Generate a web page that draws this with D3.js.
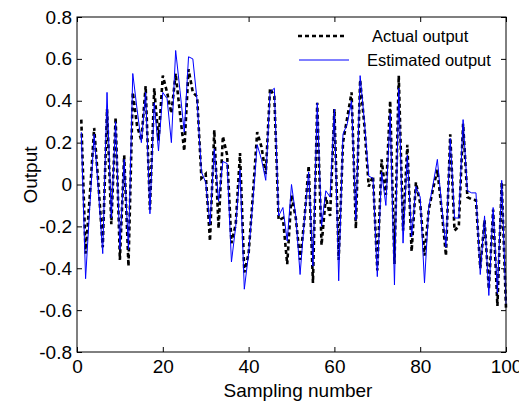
<!DOCTYPE html>
<html lang="en">
<head>
<meta charset="utf-8"/>
<title>Actual vs estimated output</title>
<script src="https://d3js.org/d3.v7.min.js"></script>
<style>
	body { margin: 0; background: #fff; }
	text { font-family: "Liberation Sans", Arial, sans-serif; fill: #000; }
	.axis .domain { display: none; }
	.axis line { stroke: #000; }
</style>
</head>
<body>
<svg id="chart" width="519" height="401"></svg>
<script>
// sample numbers 1..100
var samples = d3.range(1, 101);

var actualOutput = [
	0.31, -0.33, -0.05, 0.27, 0.00, -0.30, 0.36, -0.19, 0.32, -0.36,
	0.14, -0.39, 0.44, 0.28, 0.21, 0.47, -0.12, 0.46, 0.21, 0.52,
	0.44, 0.34, 0.53, 0.34, 0.16, 0.55, 0.44, 0.42, 0.03, 0.05,
	-0.27, 0.26, -0.21, 0.23, 0.14, -0.28, -0.19, 0.15, -0.42, -0.33,
	-0.05, 0.25, 0.18, 0.05, 0.46, 0.42, -0.17, -0.16, -0.38, -0.05,
	-0.16, -0.36, -0.17, 0.09, -0.47, 0.39, -0.29, -0.06, -0.15, 0.36,
	-0.36, 0.20, 0.32, 0.44, -0.21, 0.50, 0.28, -0.01, 0.04, -0.41,
	0.12, -0.05, 0.40, -0.38, 0.52, -0.22, 0.19, -0.32, 0.01, -0.09,
	-0.34, -0.12, -0.02, 0.07, -0.12, -0.34, 0.24, -0.22, -0.20, 0.29,
	-0.06, -0.07, -0.075, -0.40, -0.17, -0.50, -0.12, -0.58, 0.01, -0.59
];

var estimatedOutput = [
	0.25, -0.45, -0.10, 0.24, -0.03, -0.33, 0.44, -0.16, 0.30, -0.31,
	0.12, -0.31, 0.53, 0.36, 0.20, 0.44, -0.14, 0.39, 0.16, 0.44,
	0.41, 0.20, 0.64, 0.45, 0.25, 0.61, 0.60, 0.40, 0.06, 0.01,
	-0.19, 0.17, -0.08, 0.11, 0.10, -0.37, -0.20, 0.07, -0.50, -0.33,
	-0.08, 0.19, 0.12, 0.02, 0.44, 0.46, -0.15, -0.11, -0.27, 0.00,
	-0.15, -0.43, -0.17, 0.06, -0.39, 0.39, -0.20, -0.03, -0.06, 0.36,
	-0.46, 0.24, 0.29, 0.40, -0.17, 0.52, 0.30, 0.04, 0.03, -0.44,
	0.06, -0.10, 0.34, -0.48, 0.46, -0.28, 0.14, -0.25, -0.01, -0.06,
	-0.47, -0.11, 0.00, 0.12, -0.10, -0.30, 0.22, -0.16, -0.16, 0.31,
	-0.03, -0.04, -0.04, -0.43, -0.15, -0.53, -0.11, -0.52, 0.02, -0.57
];

var xTicks = [0, 20, 40, 60, 80, 100];
var yTicks = [-0.8, -0.6, -0.4, -0.2, 0, 0.2, 0.4, 0.6, 0.8];
var seriesNames = ["Actual output", "Estimated output"];

var svg = d3.select("#chart"),
	margin = {top: 17, right: 13, bottom: 49, left: 77},
	width = 519 - margin.left - margin.right,
	height = 401 - margin.top - margin.bottom;

var g = svg.append("g").attr("transform", "translate(" + margin.left + "," + margin.top + ")");

var x = d3.scaleLinear().domain([0, 100]).range([0, width]);
var y = d3.scaleLinear().domain([-0.8, 0.8]).range([height, 0]);

var fmt = function(d) { return String(Math.round(d * 10) / 10); };

// axes, MATLAB style ticks pointing inwards on all sides
g.append("g")
	.attr("class", "axis")
	.attr("transform", "translate(0," + height + ")")
	.call(d3.axisBottom(x).tickValues(xTicks).tickSize(-5).tickPadding(7.5).tickFormat(fmt))
	.selectAll("text").style("font-size", "19px");

g.append("g")
	.attr("class", "axis")
	.call(d3.axisLeft(y).tickValues(yTicks).tickSize(-5).tickPadding(5).tickFormat(fmt))
	.selectAll("text").style("font-size", "19px");

g.append("g")
	.attr("class", "axis")
	.call(d3.axisTop(x).tickValues(xTicks).tickSize(-5).tickFormat(""));

g.append("g")
	.attr("class", "axis")
	.attr("transform", "translate(" + width + ",0)")
	.call(d3.axisRight(y).tickValues(yTicks).tickSize(-5).tickFormat(""));

// lines
var line = function(vals) {
	return d3.line()
		.x(function(d, i) { return x(samples[i]); })
		.y(function(d) { return y(d); })(vals);
};

g.append("path")
	.attr("d", line(actualOutput))
	.attr("fill", "none")
	.attr("stroke", "#000")
	.attr("stroke-width", 2.6)
	.attr("stroke-dasharray", "4,3");

g.append("path")
	.attr("d", line(estimatedOutput))
	.attr("fill", "none")
	.attr("stroke", "#0000ff")
	.attr("stroke-width", 1);

// frame
g.append("rect")
	.attr("width", width)
	.attr("height", height)
	.attr("fill", "none")
	.attr("stroke", "#000")
	.attr("stroke-width", 1);

// legend (no box)
var legend = g.append("g");
legend.append("line")
	.attr("x1", 221).attr("x2", 269).attr("y1", 19).attr("y2", 19)
	.attr("stroke", "#000").attr("stroke-width", 2.6).attr("stroke-dasharray", "4,3");
legend.append("text")
	.attr("x", 295).attr("y", 19).attr("dy", "0.35em")
	.style("font-size", "16.5px")
	.text(seriesNames[0]);
legend.append("line")
	.attr("x1", 222).attr("x2", 272).attr("y1", 43).attr("y2", 43)
	.attr("stroke", "#0000ff").attr("stroke-width", 1);
legend.append("text")
	.attr("x", 290).attr("y", 43).attr("dy", "0.35em")
	.style("font-size", "16.5px")
	.text(seriesNames[1]);

// axis titles
svg.append("text")
	.attr("x", 298).attr("y", 397)
	.attr("text-anchor", "middle")
	.style("font-size", "19px")
	.text("Sampling number");

svg.append("text")
	.attr("transform", "translate(37,175) rotate(-90)")
	.attr("text-anchor", "middle")
	.style("font-size", "19px")
	.text("Output");
</script>
</body>
</html>
